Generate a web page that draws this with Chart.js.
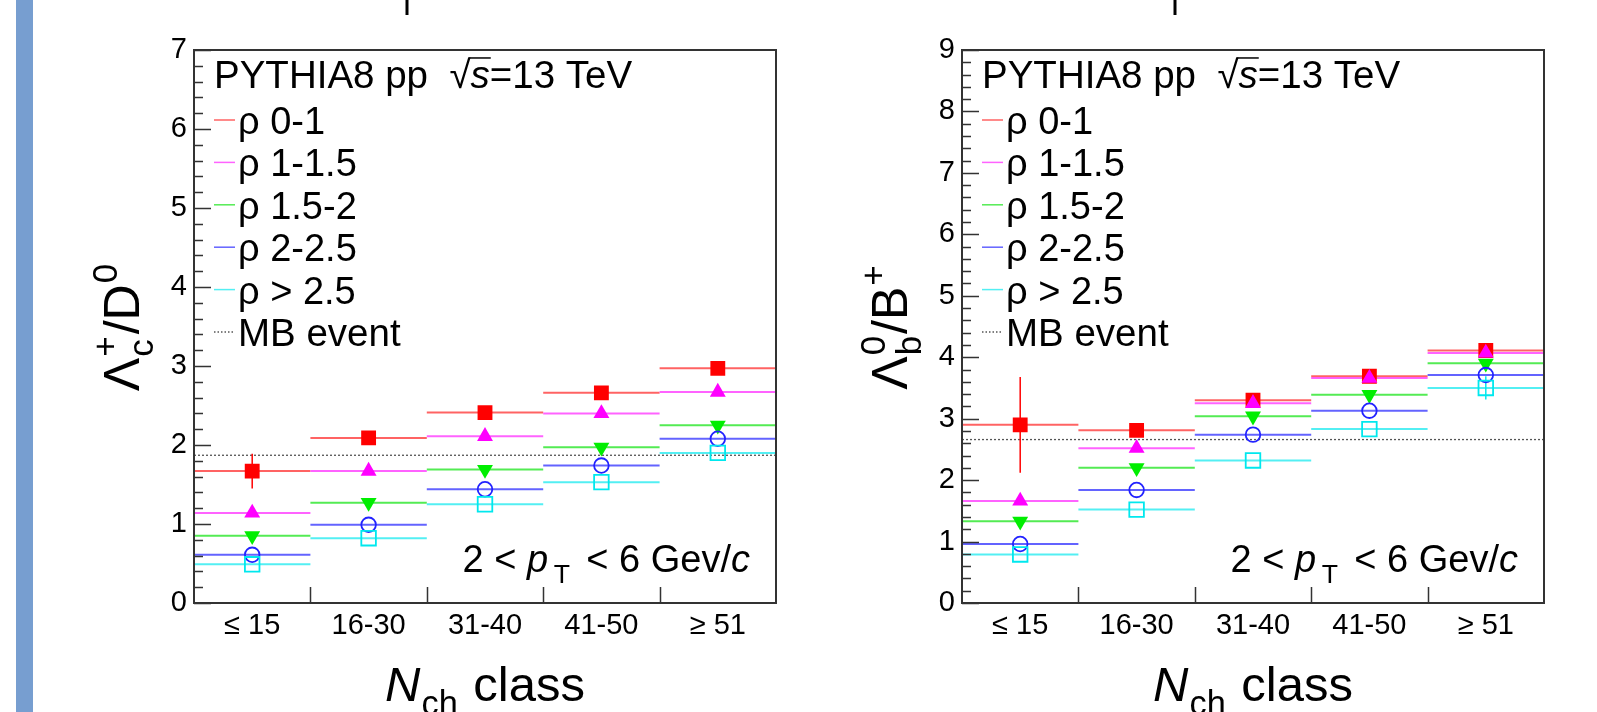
<!DOCTYPE html>
<html>
<head>
<meta charset="utf-8">
<script src="https://cdn.jsdelivr.net/npm/chart.js@4.4.0/dist/chart.umd.min.js"></script>
<style>
html, body { margin: 0; padding: 0; background: #fff; }
body { width: 1597px; height: 712px; position: relative; overflow: hidden; }
#sideBar { position: absolute; left: 16px; top: 0; width: 17px; height: 712px; background: #779ed0; }
.panel { position: absolute; top: 0; width: 760px; height: 712px; }
</style>
</head>
<body>
<div id="sideBar"></div>
<div class="panel" style="left:40px"><canvas id="lcChart" width="760" height="712"></canvas></div>
<div class="panel" style="left:808px"><canvas id="lbChart" width="760" height="712"></canvas></div>
<script>
// categories and legend names
const categories = ['≤ 15', '16-30', '31-40', '41-50', '≥ 51'];
const seriesNames = ['ρ 0-1', 'ρ 1-1.5', 'ρ 1.5-2', 'ρ 2-2.5', 'ρ > 2.5'];

// Lambda_c+/D0 (left)
const lcRho01   = [1.67, 2.09, 2.41, 2.66, 2.97];
const lcRho1015 = [1.14, 1.67, 2.11, 2.40, 2.67];
const lcRho1520 = [0.85, 1.27, 1.69, 1.97, 2.25];
const lcRho2025 = [0.61, 0.99, 1.44, 1.74, 2.08];
const lcRho25   = [0.49, 0.82, 1.25, 1.53, 1.90];
const lcErr01   = [0.22, 0, 0, 0, 0];
const lcErr25   = [0, 0, 0, 0, 0];
const lcMB = 1.87;

// Lambda_b0/B+ (right)
const lbRho01   = [2.90, 2.81, 3.30, 3.69, 4.11];
const lbRho1015 = [1.66, 2.52, 3.25, 3.66, 4.07];
const lbRho1520 = [1.33, 2.20, 3.04, 3.39, 3.90];
const lbRho2025 = [0.96, 1.84, 2.74, 3.13, 3.71];
const lbRho25   = [0.79, 1.52, 2.32, 2.83, 3.50];
const lbErr01   = [0.78, 0, 0, 0, 0];
const lbErr25   = [0, 0, 0, 0, 0.19];
const lbMB = 2.66;

const noErr = [0, 0, 0, 0, 0];

const FONT = '"Liberation Sans", Arial, Helvetica, sans-serif';
const colors = ['#ff0000', '#ff00ff', '#00ee00', '#2222ff', '#00e8ee'];
const lineColors = ['rgba(255,60,60,0.8)', 'rgba(255,60,255,0.8)', 'rgba(40,230,40,0.8)', 'rgba(60,60,255,0.8)', 'rgba(40,235,240,0.8)'];
const markers = [
    { style: 'rect', rot: 0, r: 10.5, fill: true },
    { style: 'triangle', rot: 0, r: 9.2, fill: true },
    { style: 'triangle', rot: 180, r: 9.2, fill: true },
    { style: 'circle', rot: 0, r: 7.3, fill: false },
    { style: 'rect', rot: 0, r: 10.3, fill: false }
];

function fnt(size, italic) {
    return (italic ? 'italic ' : '') + size + 'px ' + FONT;
}

// TLatex-like text: parts are {t, it, over} or {sub, sup}
function drawRich(ctx, parts, x, y, size, align, gap) {
    gap = gap || 0.06;
    const items = [];
    let total = 0;
    parts.forEach(p => {
        let w;
        if (p.t !== undefined) {
            ctx.font = fnt(size, p.it);
            w = ctx.measureText(p.t).width;
        } else {
            ctx.font = fnt(size * 0.7, p.it);
            const w1 = p.sub ? ctx.measureText(p.sub).width : 0;
            const w2 = p.sup ? ctx.measureText(p.sup).width : 0;
            w = Math.max(w1, w2) + size * gap;
        }
        items.push({ p, w });
        total += w;
    });
    let cx = align === 'center' ? x - total / 2 : (align === 'right' ? x - total : x);
    ctx.textAlign = 'left';
    ctx.textBaseline = 'alphabetic';
    items.forEach(({ p, w }) => {
        if (p.t !== undefined) {
            ctx.font = fnt(size, p.it);
            ctx.fillText(p.t, cx, y);
            if (p.over) {
                ctx.save();
                ctx.lineWidth = 1.5;
                ctx.beginPath();
                ctx.moveTo(cx - 2, y - size * 0.78);
                ctx.lineTo(cx + w + 1, y - size * 0.78);
                ctx.stroke();
                ctx.restore();
            }
        } else {
            ctx.font = fnt(size * 0.7, p.it);
            const off = size * (gap - 0.06) / 2 + 1;
            if (p.sub) ctx.fillText(p.sub, cx + off, y + size * 0.28);
            if (p.sup) ctx.fillText(p.sup, cx + off, y - size * 0.45);
        }
        cx += w;
    });
}

const rootStyle = {
    id: 'rootStyle',
    beforeDatasetsDraw(chart) {
        const { ctx, chartArea: a, scales: { x, y } } = chart;
        const o = chart.options.plugins.rootStyle;
        const half = a.width / categories.length / 2;
        ctx.save();
        // MB reference line
        ctx.strokeStyle = '#555';
        ctx.lineWidth = 1.3;
        ctx.setLineDash([2, 2]);
        ctx.beginPath();
        ctx.moveTo(a.left, y.getPixelForValue(o.mb));
        ctx.lineTo(a.right, y.getPixelForValue(o.mb));
        ctx.stroke();
        ctx.setLineDash([]);
        // bin-width and stat error bars
        chart.data.datasets.forEach((ds, i) => {
            ds.data.forEach((v, j) => {
                const px = x.getPixelForValue(j);
                const py = y.getPixelForValue(v);
                ctx.strokeStyle = lineColors[i];
                ctx.lineWidth = 2;
                ctx.beginPath();
                ctx.moveTo(px - half, py);
                ctx.lineTo(px + half, py);
                ctx.stroke();
                const e = ds.errors[j];
                if (e > 0) {
                    ctx.strokeStyle = colors[i];
                    ctx.lineWidth = 1.5;
                    ctx.beginPath();
                    ctx.moveTo(px, y.getPixelForValue(v - e));
                    ctx.lineTo(px, y.getPixelForValue(v + e));
                    ctx.stroke();
                }
            });
        });
        ctx.restore();
    },
    afterDraw(chart) {
        const { ctx, chartArea: a, scales: { x, y } } = chart;
        const o = chart.options.plugins.rootStyle;
        const half = a.width / categories.length / 2;
        ctx.save();
        // frame
        ctx.strokeStyle = '#333';
        ctx.lineWidth = 2;
        ctx.strokeRect(a.left, a.top, a.width, a.height);
        // y ticks (major + minor)
        ctx.lineWidth = 1.5;
        ctx.beginPath();
        for (let k = 0; k <= o.yMax * 5; k++) {
            const py = Math.round(y.getPixelForValue(k / 5)) + 0.5;
            const len = k % 5 === 0 ? 17 : 9;
            ctx.moveTo(a.left, py);
            ctx.lineTo(a.left + len, py);
        }
        // x ticks at bin edges
        for (let j = 1; j < categories.length; j++) {
            const px = Math.round(x.getPixelForValue(j) - half) + 0.5;
            ctx.moveTo(px, a.bottom);
            ctx.lineTo(px, a.bottom - 16);
        }
        ctx.stroke();

        ctx.fillStyle = '#000';
        ctx.strokeStyle = '#000';
        // y title, rotated
        ctx.save();
        ctx.translate(a.left - 55, (a.top + a.bottom) / 2);
        ctx.rotate(-Math.PI / 2);
        drawRich(ctx, o.yTitle, 0, 0, 50, 'center');
        ctx.restore();
        // x title
        drawRich(ctx, [{ t: 'N', it: true }, { sub: 'ch' }, { t: ' class' }], (a.left + a.right) / 2, 701, 49, 'center');

        // legend
        const lx = a.left + 20;
        drawRich(ctx, [{ t: 'PYTHIA8 pp  √' }, { t: 's', it: true, over: true }, { t: '=13 TeV' }], lx, 74 + 14, 38.5, 'left');
        const rows = [120, 162.4, 204.8, 247.2, 289.6];
        seriesNames.forEach((n, i) => {
            ctx.strokeStyle = lineColors[i];
            ctx.lineWidth = 1.5;
            ctx.beginPath();
            ctx.moveTo(lx, rows[i]);
            ctx.lineTo(lx + 21, rows[i]);
            ctx.stroke();
            ctx.font = fnt(38);
            ctx.fillText(n, lx + 24, rows[i] + 14);
        });
        ctx.strokeStyle = '#555';
        ctx.setLineDash([1.5, 2]);
        ctx.beginPath();
        ctx.moveTo(lx, 332);
        ctx.lineTo(lx + 21, 332);
        ctx.stroke();
        ctx.setLineDash([]);
        ctx.font = fnt(38.5);
        ctx.fillText('MB event', lx + 24, 332 + 14);

        // kinematic range
        drawRich(ctx, [{ t: '2 < ' }, { t: 'p', it: true }, { sub: 'T' }, { t: ' < 6 Gev/' }, { t: 'c', it: true }], a.right - 26, 572, 38, 'right', 0.3);

        // remnant of the cut title above
        ctx.strokeStyle = '#000';
        ctx.lineWidth = 3;
        ctx.beginPath();
        ctx.moveTo(367, 0);
        ctx.lineTo(367, 15);
        ctx.stroke();
        ctx.restore();
    }
};

function makeChart(id, series, errs, mb, yMax, yTitle) {
    const datasets = seriesNames.map((name, i) => ({
        label: name,
        data: series[i],
        errors: errs[i],
        showLine: false,
        pointStyle: markers[i].style,
        rotation: markers[i].rot,
        pointRadius: markers[i].r,
        pointHoverRadius: markers[i].r,
        pointBackgroundColor: markers[i].fill ? colors[i] : 'rgba(0,0,0,0)',
        pointBorderColor: colors[i],
        pointBorderWidth: markers[i].fill ? 0 : 1.8,
        order: seriesNames.length - i
    }));
    return new Chart(document.getElementById(id), {
        type: 'line',
        data: { labels: categories, datasets },
        options: {
            responsive: false,
            animation: false,
            layout: { padding: { top: 50, right: 24, left: 0, bottom: 0 } },
            plugins: {
                legend: { display: false },
                tooltip: { enabled: false },
                rootStyle: { mb, yMax, yTitle }
            },
            scales: {
                x: {
                    type: 'category',
                    offset: true,
                    grid: { display: false, drawTicks: false },
                    border: { display: false },
                    ticks: { color: '#000', font: { family: FONT, size: 29 }, padding: 6, maxRotation: 0 },
                    afterFit(s) { s.height = 109; }
                },
                y: {
                    min: 0,
                    max: yMax,
                    grid: { display: false, drawTicks: false },
                    border: { display: false },
                    ticks: { stepSize: 1, color: '#000', font: { family: FONT, size: 29 }, padding: 7 },
                    afterFit(s) { s.width = 154; }
                }
            }
        },
        plugins: [rootStyle]
    });
}

makeChart('lcChart',
    [lcRho01, lcRho1015, lcRho1520, lcRho2025, lcRho25],
    [lcErr01, noErr, noErr, noErr, lcErr25],
    lcMB, 7,
    [{ t: 'Λ' }, { sub: 'c', sup: '+' }, { t: '/D' }, { sup: '0' }]);

makeChart('lbChart',
    [lbRho01, lbRho1015, lbRho1520, lbRho2025, lbRho25],
    [lbErr01, noErr, noErr, noErr, lbErr25],
    lbMB, 9,
    [{ t: 'Λ' }, { sub: 'b', sup: '0' }, { t: '/B' }, { sup: '+' }]);
</script>
</body>
</html>
